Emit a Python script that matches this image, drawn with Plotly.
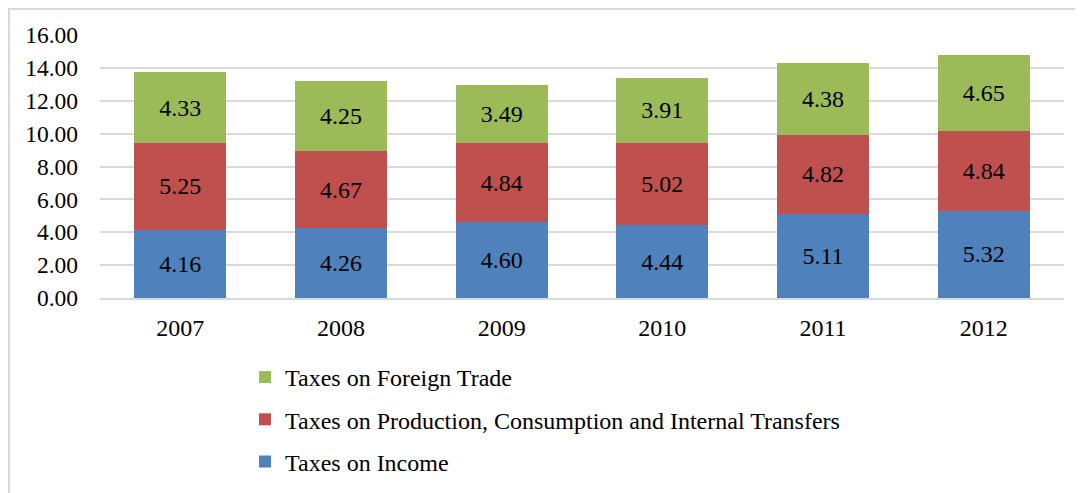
import plotly.graph_objects as go

years = ["2007", "2008", "2009", "2010", "2011", "2012"]
income = [4.16, 4.26, 4.60, 4.44, 5.11, 5.32]
production = [5.25, 4.67, 4.84, 5.02, 4.82, 4.84]
foreign = [4.33, 4.25, 3.49, 3.91, 4.38, 4.65]

series = [
    ("Taxes on Income", income, "#4F81BD", 3),
    ("Taxes on Production, Consumption and Internal Transfers", production, "#C0504D", 2),
    ("Taxes on Foreign Trade", foreign, "#9BBB59", 1),
]

FONT = "Liberation Serif, Times New Roman, serif"

# figure sized to compensate the 8px default body margin of the page
W, H = 1075, 485
L, R, T, B = 92, 19, 27, 195
PW, PH = W - L - R, H - T - B

fig = go.Figure()
for i, (name, vals, col, rank) in enumerate(series):
    fig.add_trace(go.Bar(
        x=years, y=vals, name=name, legendgroup=f"g{i}", legendrank=rank,
        marker=dict(color=col, line=dict(width=0)),
        text=[f"{v:.2f}" for v in vals], textposition="inside",
        insidetextanchor="middle",
        textfont=dict(family=FONT, size=24, color="black"),
        hoverinfo="skip",
    ))

fig.update_layout(
    width=W, height=H,
    barmode="stack", bargap=0.427,
    paper_bgcolor="white", plot_bgcolor="white",
    margin=dict(l=L, r=R, t=T, b=B, autoexpand=False),
    font=dict(family=FONT, size=24, color="black"),
    legend=dict(
        orientation="v", traceorder="grouped", tracegroupgap=8,
        xref="container", yref="container",
        x=237 / W, xanchor="left", y=1 - 347 / H, yanchor="top",
        bgcolor="rgba(0,0,0,0)",
        font=dict(family=FONT, size=24, color="black"),
        itemwidth=30,
    ),
    shapes=[dict(type="rect", xref="paper", yref="paper",
                 x0=(1 - L) / PW, x1=(W + 10 - L) / PW,
                 y0=-(B + 10) / PH, y1=1 + (T - 1) / PH,
                 line=dict(color="#D9D9D9", width=2), layer="below")],
)
fig.update_xaxes(showline=True, linecolor="#D9D9D9", linewidth=1.5,
                 ticks="", tickfont=dict(size=24), ticklabelstandoff=7)
fig.update_yaxes(range=[0, 16], dtick=2, tickformat=".2f",
                 showgrid=True, gridcolor="#D9D9D9", gridwidth=1.5,
                 zeroline=False, ticks="", tickfont=dict(size=23.5),
                 ticklabelstandoff=21)

fig.write_html("out.html")
